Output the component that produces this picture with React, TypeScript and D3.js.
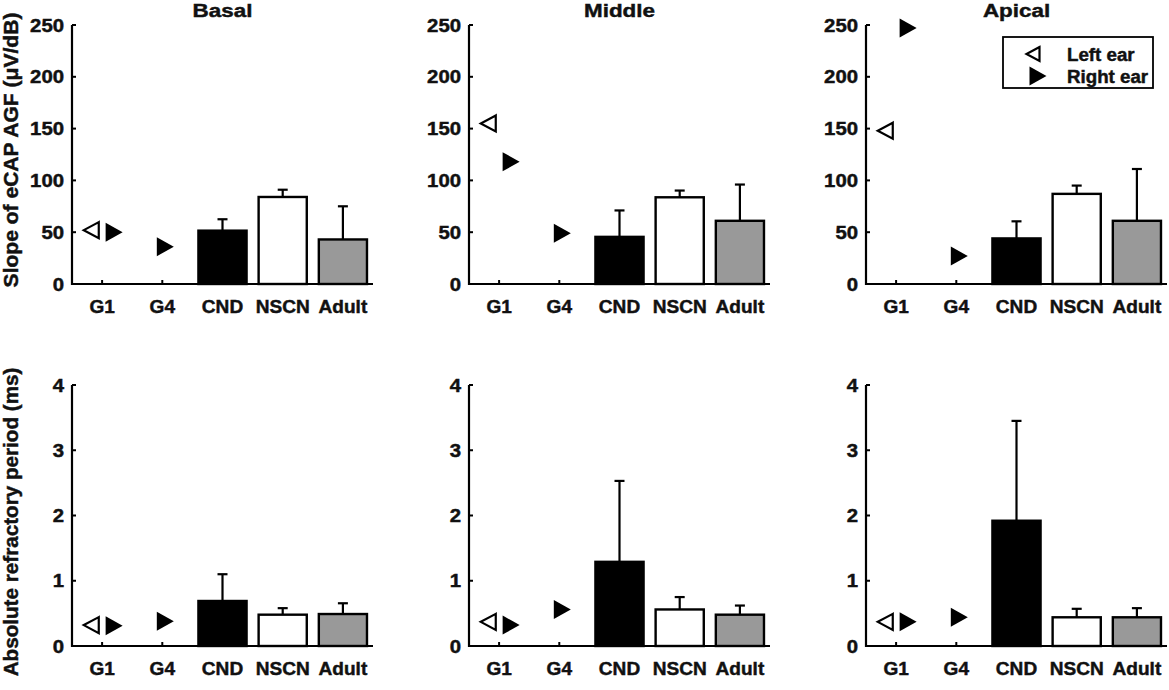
import React from 'react';
import * as d3 from 'd3';

const regions = ['Basal', 'Middle', 'Apical'];
const groups = ['G1', 'G4', 'CND', 'NSCN', 'Adult'];

// slope of eCAP AGF (µV/dB)
const slopeG1Left = [52, 155, 148];
const slopeG1Right = [50, 118, 247];
const slopeG4Right = [36, 49, 27];
const slopeCndMean = [51.5, 45.5, 44];
const slopeCndSd = [11, 25.5, 16.5];
const slopeNscnMean = [84, 83.7, 87];
const slopeNscnSd = [7, 6.5, 8];
const slopeAdultMean = [43, 61, 61];
const slopeAdultSd = [32, 35, 50];
const slopeTicks = [0, 50, 100, 150, 200, 250];

// absolute refractory period (ms)
const arpG1Left = [0.32, 0.37, 0.37];
const arpG1Right = [0.31, 0.32, 0.37];
const arpG4Right = [0.38, 0.56, 0.44];
const arpCndMean = [0.69, 1.29, 1.92];
const arpCndSd = [0.41, 1.24, 1.53];
const arpNscnMean = [0.48, 0.56, 0.44];
const arpNscnSd = [0.1, 0.19, 0.13];
const arpAdultMean = [0.49, 0.48, 0.44];
const arpAdultSd = [0.165, 0.14, 0.14];
const arpTicks = [0, 1, 2, 3, 4];

const FONT = '"Liberation Sans", Arial, sans-serif';
const barFill: Record<string, string> = { CND: '#000000', NSCN: '#ffffff', Adult: '#999999' };

interface TxtProps {
  x: number;
  y: number;
  size: number;
  anchor?: 'start' | 'middle' | 'end';
  stretch?: number;
  rotate?: number;
  children: React.ReactNode;
}

// wide, heavy lettering like the original figure
const Txt: React.FC<TxtProps> = ({ x, y, size, anchor = 'middle', stretch = 1.12, rotate = 0, children }) => (
  <text
    transform={`translate(${x},${y}) rotate(${rotate}) scale(${stretch},1)`}
    fontFamily={FONT}
    fontWeight="bold"
    fontSize={size}
    textAnchor={anchor}
    fill="#111"
    stroke="#111"
    strokeWidth={0.45}
  >
    {children}
  </text>
);

const triRight = (cx: number, cy: number, w: number, h: number) =>
  `M${cx - w / 2},${cy - h / 2}L${cx + w / 2},${cy}L${cx - w / 2},${cy + h / 2}Z`;
const triLeft = (cx: number, cy: number, w: number, h: number) =>
  `M${cx + w / 2},${cy - h / 2}L${cx - w / 2},${cy}L${cx + w / 2},${cy + h / 2}Z`;

interface PanelProps {
  x0: number;
  y0: number;
  w: number;
  h: number;
  ticks: number[];
  g1Left: number;
  g1Right: number;
  g4Right: number;
  means: number[];
  sds: number[];
  title?: string;
}

const Panel: React.FC<PanelProps> = ({ x0, y0, w, h, ticks, g1Left, g1Right, g4Right, means, sds, title }) => {
  const x = d3.scaleLinear().domain([0.5, 5.5]).range([x0, x0 + w]);
  const y = d3.scaleLinear().domain([0, d3.max(ticks) as number]).range([y0 + h, y0]);
  const bw = x(1.4) - x(0.6);
  const bars = groups.slice(2).map((g, i) => ({ g, pos: i + 3, mean: means[i], sd: sds[i] }));

  return (
    <g>
      {title && <Txt x={x0 + w / 2} y={y0 - 8} size={19} stretch={1.18}>{title}</Txt>}

      {/* ticks */}
      {ticks.map(t => (
        <g key={t}>
          <line x1={x0} x2={x0 + 4} y1={y(t)} y2={y(t)} stroke="#000" strokeWidth={2} />
          <Txt x={x0 - 8} y={y(t) + 6.5} size={18} anchor="end" stretch={1.13}>{t}</Txt>
        </g>
      ))}
      {groups.map((g, i) => (
        <g key={g}>
          <line x1={x(i + 1)} x2={x(i + 1)} y1={y(0)} y2={y(0) - 4} stroke="#000" strokeWidth={2} />
          <Txt x={x(i + 1)} y={y(0) + 29} size={18} stretch={1.06}>{g}</Txt>
        </g>
      ))}

      {/* bars with upper SD */}
      {bars.map(b => (
        <g key={b.g}>
          <line x1={x(b.pos)} x2={x(b.pos)} y1={y(b.mean)} y2={y(b.mean + b.sd)} stroke="#000" strokeWidth={2.2} />
          <line x1={x(b.pos) - 5} x2={x(b.pos) + 5} y1={y(b.mean + b.sd)} y2={y(b.mean + b.sd)} stroke="#000" strokeWidth={2.2} />
          <rect
            x={x(b.pos) - bw / 2}
            y={y(b.mean)}
            width={bw}
            height={y(0) - y(b.mean)}
            fill={barFill[b.g]}
            stroke="#000"
            strokeWidth={2.4}
          />
        </g>
      ))}

      {/* individual ears */}
      <path d={triLeft(x(1 - 0.18), y(g1Left), 15, 16)} fill="#fff" stroke="#000" strokeWidth={2.2} />
      <path d={triRight(x(1 + 0.2), y(g1Right), 17, 19)} fill="#000" />
      <path d={triRight(x(2 + 0.05), y(g4Right), 17, 19)} fill="#000" />

      {/* axes */}
      <path d={`M${x0},${y0}V${y0 + h}H${x0 + w}`} fill="none" stroke="#000" strokeWidth={2.2} />
    </g>
  );
};

export default function App() {
  const left = 72;
  const step = 397;
  const plotW = 301;

  return (
    <div style={{ position: 'absolute', left: 0, top: 0 }}>
      <svg width={1169} height={690} style={{ display: 'block', background: '#fff' }}>
        {regions.map((r, i) => (
          <Panel
            key={'s' + r}
            x0={left + i * step}
            y0={25}
            w={plotW}
            h={259}
            ticks={slopeTicks}
            g1Left={slopeG1Left[i]}
            g1Right={slopeG1Right[i]}
            g4Right={slopeG4Right[i]}
            means={[slopeCndMean[i], slopeNscnMean[i], slopeAdultMean[i]]}
            sds={[slopeCndSd[i], slopeNscnSd[i], slopeAdultSd[i]]}
            title={r}
          />
        ))}
        {regions.map((r, i) => (
          <Panel
            key={'a' + r}
            x0={left + i * step}
            y0={385}
            w={plotW}
            h={261}
            ticks={arpTicks}
            g1Left={arpG1Left[i]}
            g1Right={arpG1Right[i]}
            g4Right={arpG4Right[i]}
            means={[arpCndMean[i], arpNscnMean[i], arpAdultMean[i]]}
            sds={[arpCndSd[i], arpNscnSd[i], arpAdultSd[i]]}
          />
        ))}

        <Txt x={18} y={150} size={19.5} rotate={-90} stretch={1.08}>Slope of eCAP AGF (μV/dB)</Txt>
        <Txt x={18} y={522} size={19.5} rotate={-90} stretch={1.06}>Absolute refractory period (ms)</Txt>

        {/* legend */}
        <g>
          <rect x={1003} y={37} width={150} height={51} fill="#fff" stroke="#000" strokeWidth={1.8} />
          <path d={triLeft(1033, 54, 13, 14)} fill="#fff" stroke="#000" strokeWidth={2.2} />
          <path d={triRight(1038, 76, 17, 19)} fill="#000" />
          <Txt x={1067} y={60.5} size={18} anchor="start" stretch={1.04}>Left ear</Txt>
          <Txt x={1067} y={82.5} size={18} anchor="start" stretch={1.04}>Right ear</Txt>
        </g>
      </svg>
    </div>
  );
}
